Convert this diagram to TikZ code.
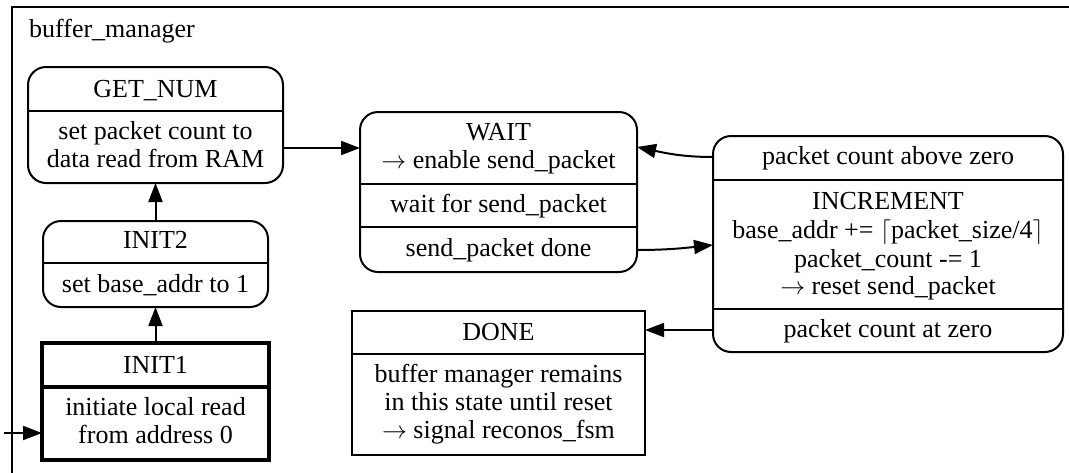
\documentclass[tikz,border=0pt]{standalone}
\usepackage{fontspec}
\setmainfont{Liberation Serif}
\usetikzlibrary{arrows.meta}
\tikzset{
  box/.style={draw, line width=2pt, inner sep=0pt, outer sep=0pt},
  roundbox/.style={box, rounded corners=18pt},
  thickbox/.style={draw, line width=3.8pt, inner sep=0pt, outer sep=0pt},
  txt/.style={anchor=base, inner sep=0pt, font=\fontsize{26}{28.5}\selectfont},
  arr/.style={line width=2pt, -{Triangle[length=19pt,width=14pt]}},
  rule/.style={line width=2pt},
  thickrule/.style={line width=3.8pt}
}
\begin{document}
\begin{tikzpicture}[x=1pt,y=-1pt]
\useasboundingbox (0,0) rectangle (1069,472);
\begin{scope}
\clip (0,0) rectangle (1069,472);
% cluster frame
\draw[line width=2pt] (12,490) -- (12,7) -- (1090,7);
\node[txt, anchor=base west] (title) at (29,37) {buffer\_manager};

% GET_NUM
\node[roundbox, minimum width=255pt, minimum height=116pt] (getnum) at (155.5,125) {};
\draw[rule] (getnum.west |- 0,111) -- (getnum.east |- 0,111);
\node[txt] (getnumA) at (155.5,97) {GET\_NUM};
\node[txt] (getnumB) at (155.5,139) {set packet count to};
\node[txt] (getnumC) at (155.5,167) {data read from RAM};

% INIT2
\node[roundbox, minimum width=225pt, minimum height=86pt] (init2) at (155.5,264) {};
\draw[rule] (init2.west |- 0,263) -- (init2.east |- 0,263);
\node[txt] (init2A) at (155.5,248) {INIT2};
\node[txt] (init2B) at (155.5,292) {set base\_addr to 1};

% INIT1 (initial state)
\node[thickbox, minimum width=227pt, minimum height=117pt] (init1) at (155.5,401.5) {};
\draw[thickrule] (init1.west |- 0,387) -- (init1.east |- 0,387);
\node[txt] (init1A) at (155.5,373) {INIT1};
\node[txt] (init1B) at (155.5,415) {initiate local read};
\node[txt] (init1C) at (155.5,443) {from address 0};

% WAIT
\node[roundbox, minimum width=277pt, minimum height=160pt] (wait) at (498.5,192) {};
\draw[rule] (wait.west |- 0,184) -- (wait.east |- 0,184);
\draw[rule] (wait.west |- 0,227) -- (wait.east |- 0,227);
\node[txt] (waitA) at (498.5,140) {WAIT};
\node[txt] (waitB) at (498.5,168) {$\rightarrow$ enable send\_packet};
\node[txt] (waitC) at (498.5,212) {wait for send\_packet};
\node[txt] (waitD) at (498.5,256) {send\_packet done};

% INCREMENT
\node[roundbox, minimum width=350pt, minimum height=216pt] (inc) at (888,244) {};
\draw[rule] (inc.west |- 0,180) -- (inc.east |- 0,180);
\draw[rule] (inc.west |- 0,309) -- (inc.east |- 0,309);
\node[txt] (incA) at (888,164) {packet count above zero};
\node[txt] (incB) at (888,209) {INCREMENT};
\node[txt] (incC) at (888,238) {base\_addr += $\big\lceil$packet\_size/4$\big\rceil$};
\node[txt] (incD) at (888,267) {packet\_count -= 1};
\node[txt] (incE) at (888,294) {$\rightarrow$ reset send\_packet};
\node[txt] (incF) at (888,337) {packet count at zero};

% DONE
\node[box, minimum width=293pt, minimum height=144pt] (done) at (498.5,383) {};
\draw[rule] (done.west |- 0,354) -- (done.east |- 0,354);
\node[txt] (doneA) at (498.5,340) {DONE};
\node[txt] (doneB) at (498.5,382) {buffer manager remains};
\node[txt] (doneC) at (498.5,410) {in this state until reset};
\node[txt] (doneD) at (498.5,438) {$\rightarrow$ signal reconos\_fsm};

% transitions
\coordinate (start) at (4,433);
\draw[arr] (start) -- (init1.west |- start);
\draw[arr] (init1.north) -- (init2.south);
\draw[arr] (init2.north) -- (getnum.south);
\draw[arr] (getnum.east |- 0,148) -- (wait.west |- 0,148);
\draw[arr] (inc.west |- 0,157) to[out=180,in=-12] (wait.east |- 0,147);
\draw[arr] (wait.east |- 0,250) to[out=0,in=186] (inc.west |- 0,245);
\draw[arr] (inc.west |- 0,330) -- (done.east |- 0,330);
\end{scope}
\end{tikzpicture}
\end{document}
